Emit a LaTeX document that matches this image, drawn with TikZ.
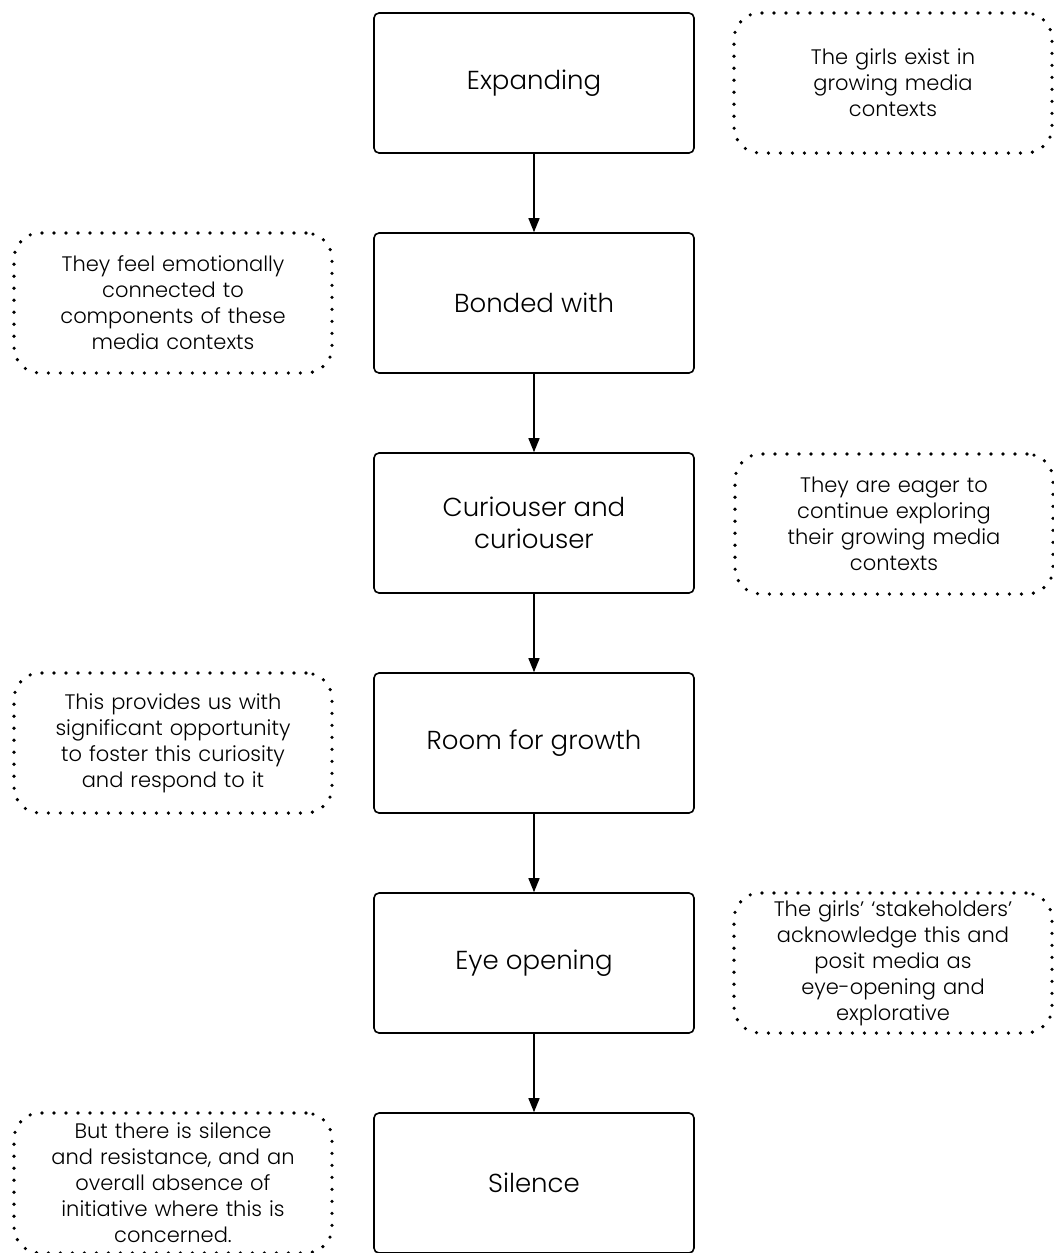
\documentclass[tikz,border=0pt]{standalone}
\usepackage{fontspec}
\setmainfont{Poppins}[UprightFont=* Light]
\usetikzlibrary{arrows.meta}
\begin{document}
\begin{tikzpicture}[x=1pt,y=-1pt,
  stagebox/.style={draw=black, line width=1.6pt, rounded corners=5pt,
    minimum width=320pt, minimum height=140pt, inner sep=0pt,
    align=center, font=\fontsize{26}{32}\selectfont},
  notebox/.style={draw=black, line width=3.6pt, line cap=round,
    dash pattern=on 0pt off 12pt, rounded corners=26pt,
    minimum width=318pt, minimum height=140pt, inner sep=0pt,
    text width=300pt, align=center, font=\fontsize{21}{26}\selectfont},
  flow/.style={line width=1.4pt, -{Triangle[width=11pt,length=14pt]}}
]
\useasboundingbox (0,0) rectangle (1054,1253);

% main sequence of stages
\node[stagebox] (s1) at (534,83)   {Expanding};
\node[stagebox] (s2) at (534,303)  {Bonded with};
\node[stagebox] (s3) at (534,523)  {Curiouser and\\curiouser};
\node[stagebox] (s4) at (534,743)  {Room for growth};
\node[stagebox] (s5) at (534,963)  {Eye opening};
\node[stagebox] (s6) at (534,1183) {Silence};

% explanatory notes, alternating right and left
\node[notebox] (n1) at (893,83)   {The girls exist in\\growing media\\contexts};
\node[notebox] (n2) at (173,303)  {They feel emotionally\\connected to\\components of these\\media contexts};
\node[notebox] (n3) at (894,524)  {They are eager to\\continue exploring\\their growing media\\contexts};
\node[notebox] (n4) at (173,743)  {This provides us with\\significant opportunity\\to foster this curiosity\\and respond to it};
\node[notebox] (n5) at (893,963)  {The girls’ ‘stakeholders’\\acknowledge this and\\posit media as\\eye-opening and\\explorative};
\node[notebox] (n6) at (173,1183) {But there is silence\\and resistance, and an\\overall absence of\\initiative where this is\\concerned.};

% connectors
\draw[flow] (s1) -- (s2);
\draw[flow] (s2) -- (s3);
\draw[flow] (s3) -- (s4);
\draw[flow] (s4) -- (s5);
\draw[flow] (s5) -- (s6);
\end{tikzpicture}
\end{document}
